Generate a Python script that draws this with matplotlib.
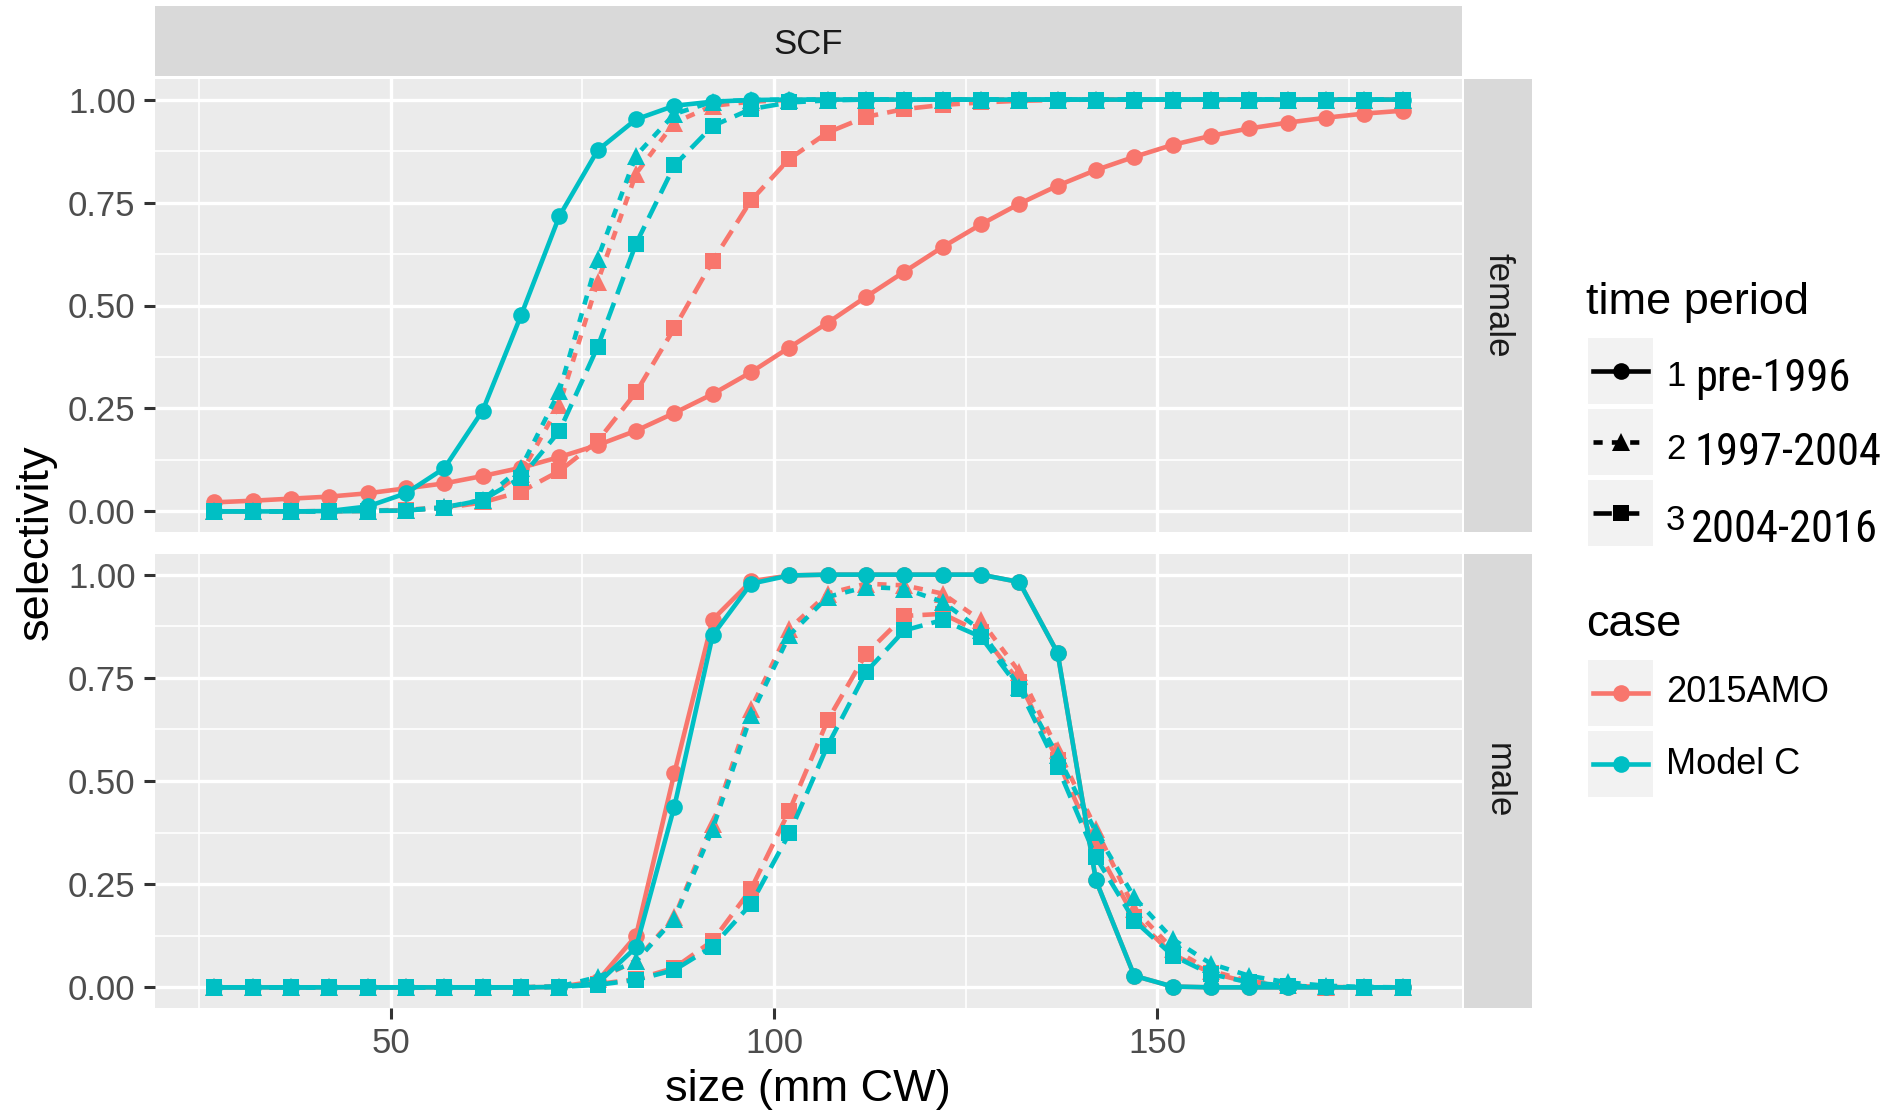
import matplotlib
matplotlib.use("Agg")
import matplotlib.pyplot as plt
from matplotlib.lines import Line2D
from matplotlib.patches import Rectangle
from matplotlib import font_manager

plt.rcParams['font.family'] = ['Liberation Sans', 'DejaVu Sans']

# size bins (mm CW)
size = [27, 32, 37, 42, 47, 52, 57, 62, 67, 72, 77, 82, 87, 92, 97, 102,
        107, 112, 117, 122, 127, 132, 137, 142, 147, 152, 157, 162, 167, 172, 177, 182]

# female, 2015AMO
fem_amo_1 = [0.022, 0.026, 0.031, 0.036, 0.044, 0.056, 0.068, 0.086, 0.106, 0.132, 0.161, 0.196,
             0.239, 0.285, 0.338, 0.398, 0.458, 0.521, 0.582, 0.642, 0.697, 0.747, 0.791, 0.829,
             0.861, 0.890, 0.912, 0.930, 0.944, 0.956, 0.966, 0.973]
fem_amo_2 = [0, 0, 0, 0.001, 0.002, 0.004, 0.010, 0.025, 0.092, 0.259, 0.558, 0.820,
             0.944, 0.985, 0.995, 0.999, 1, 1, 1, 1, 1, 1, 1, 1,
             1, 1, 1, 1, 1, 1, 1, 1]
fem_amo_3 = [0, 0, 0, 0, 0.001, 0.003, 0.008, 0.022, 0.048, 0.098, 0.171, 0.289,
             0.445, 0.608, 0.755, 0.856, 0.920, 0.958, 0.977, 0.987, 0.993, 0.997, 0.999, 1,
             1, 1, 1, 1, 1, 1, 1, 1]
# female, Model C
fem_mc_1 = [0, 0, 0, 0.001, 0.012, 0.044, 0.105, 0.245, 0.476, 0.717, 0.877, 0.952,
            0.985, 0.995, 0.999, 1, 1, 1, 1, 1, 1, 1, 1, 1,
            1, 1, 1, 1, 1, 1, 1, 1]
fem_mc_2 = [0, 0, 0, 0, 0.001, 0.003, 0.010, 0.028, 0.106, 0.292, 0.614, 0.864,
            0.965, 0.995, 0.999, 1, 1, 1, 1, 1, 1, 1, 1, 1,
            1, 1, 1, 1, 1, 1, 1, 1]
fem_mc_3 = [0, 0, 0, 0, 0.001, 0.002, 0.009, 0.028, 0.082, 0.195, 0.400, 0.650,
            0.840, 0.936, 0.977, 0.993, 0.998, 1, 1, 1, 1, 1, 1, 1,
            1, 1, 1, 1, 1, 1, 1, 1]

# male, 2015AMO
mal_amo_1 = [0, 0, 0, 0, 0, 0, 0, 0, 0, 0.001, 0.016, 0.125,
             0.519, 0.891, 0.984, 0.998, 1, 1, 1, 1, 1, 0.982, 0.810, 0.259,
             0.028, 0.002, 0, 0, 0, 0, 0, 0]
mal_amo_2 = [0, 0, 0, 0, 0, 0, 0, 0, 0, 0.002, 0.020, 0.065,
             0.170, 0.396, 0.675, 0.869, 0.954, 0.978, 0.974, 0.954, 0.889, 0.764, 0.576, 0.384,
             0.190, 0.093, 0.040, 0.015, 0.005, 0.001, 0, 0]
mal_amo_3 = [0, 0, 0, 0, 0, 0, 0, 0, 0, 0.002, 0.008, 0.020,
             0.047, 0.113, 0.238, 0.428, 0.647, 0.808, 0.900, 0.905, 0.860, 0.740, 0.550, 0.340,
             0.170, 0.080, 0.035, 0.012, 0.004, 0.001, 0, 0]
# male, Model C
mal_mc_1 = [0, 0, 0, 0, 0, 0, 0, 0, 0, 0.001, 0.010, 0.097,
            0.438, 0.853, 0.978, 0.998, 1, 1, 1, 1, 1, 0.982, 0.810, 0.259,
            0.028, 0.002, 0, 0, 0, 0, 0, 0]
mal_mc_2 = [0, 0, 0, 0, 0, 0, 0, 0, 0, 0.002, 0.025, 0.063,
            0.166, 0.384, 0.659, 0.853, 0.946, 0.970, 0.966, 0.934, 0.865, 0.728, 0.562, 0.376,
            0.218, 0.117, 0.057, 0.028, 0.012, 0.004, 0.001, 0]
mal_mc_3 = [0, 0, 0, 0, 0, 0, 0, 0, 0, 0.001, 0.006, 0.018,
            0.042, 0.099, 0.202, 0.373, 0.586, 0.764, 0.865, 0.890, 0.849, 0.724, 0.534, 0.315,
            0.162, 0.077, 0.032, 0.012, 0.004, 0.001, 0, 0]

cases = ["2015AMO", "Model C"]
case_colors = ["#F8766D", "#00BFC4"]
period_nums = ["1", "2", "3"]
period_names = ["pre-1996", "1997-2004", "2004-2016"]
period_markers = ["o", "^", "s"]
period_msize = [12, 13.5, 11]
period_ls = ["-", (0, (2, 2)), (0, (4, 2))]

panels = {
    "female": [[fem_amo_1, fem_amo_2, fem_amo_3], [fem_mc_1, fem_mc_2, fem_mc_3]],
    "male": [[mal_amo_1, mal_amo_2, mal_amo_3], [mal_mc_1, mal_mc_2, mal_mc_3]],
}

W, H = 1902, 1115
fig = plt.figure(figsize=(W / 100, H / 100), dpi=100)


def box(l, t, r, b):
    return [l / W, 1 - b / H, (r - l) / W, (b - t) / H]


# narrow font for the legend labels, if one is installed
names = {f.name for f in font_manager.fontManager.ttflist}
narrow = None
for n in ["Liberation Sans Narrow", "Roboto Condensed", "Open Sans Condensed"]:
    if n in names:
        narrow = n
        break

panel_boxes = {"female": (155, 79, 1462, 532), "male": (155, 554, 1462, 1008)}
lw = 3.3

for i, (sex, data) in enumerate(panels.items()):
    l, t, r, b = panel_boxes[sex]
    ax = fig.add_axes(box(l, t, r, b))
    ax.set_facecolor("#EBEBEB")
    for s in ax.spines.values():
        s.set_visible(False)
    ax.set_xlim(19.25, 189.75)
    ax.set_ylim(-0.05, 1.05)
    ax.set_xticks([50, 100, 150])
    ax.set_xticks([25, 75, 125, 175], minor=True)
    ax.set_yticks([0, 0.25, 0.5, 0.75, 1.0])
    ax.set_yticks([0.125, 0.375, 0.625, 0.875], minor=True)
    ax.set_yticklabels(["0.00", "0.25", "0.50", "0.75", "1.00"])
    ax.grid(which="major", color="white", lw=2.4)
    ax.grid(which="minor", color="white", lw=1.2)
    ax.set_axisbelow(True)
    ax.tick_params(which="major", length=8, width=2.2, color="#333333",
                   labelsize=25, labelcolor="#4D4D4D", pad=6)
    ax.tick_params(which="minor", length=0)
    if i == 0:
        ax.tick_params(axis="x", labelbottom=False, length=0)
    for c in range(2):
        for p in range(3):
            ax.plot(size, data[c][p], color=case_colors[c], lw=lw, ls=period_ls[p],
                    marker=period_markers[p], ms=period_msize[p], mew=0, zorder=3 + c)
    # right strip
    sax = fig.add_axes(box(1464, t, 1532, b))
    sax.set_facecolor("#D9D9D9")
    sax.set_xticks([])
    sax.set_yticks([])
    for s in sax.spines.values():
        s.set_visible(False)
    sax.text(0.5, 0.5, sex, rotation=-90, ha="center", va="center",
             fontsize=25, color="#1A1A1A", transform=sax.transAxes)

# top strip
tax = fig.add_axes(box(155, 6, 1462, 76))
tax.set_facecolor("#D9D9D9")
tax.set_xticks([])
tax.set_yticks([])
for s in tax.spines.values():
    s.set_visible(False)
tax.text(0.5, 0.45, "SCF", ha="center", va="center", fontsize=25, color="#1A1A1A",
         transform=tax.transAxes)

fig.text(808 / W, 1 - 1089 / H, "size (mm CW)", ha="center", va="center", fontsize=32.5)
fig.text(36 / W, 1 - 542 / H, "selectivity", ha="center", va="center", fontsize=32.5,
         rotation=90)


# legends drawn by hand
def fx(px):
    return px / W


def fy(py):
    return 1 - py / H


key_l, key_r = 1588, 1653
key_h = 66

fig.text(fx(1586), fy(303), "time period", ha="left", va="center", fontsize=32.5)
tp_rows = [371, 442, 513]
num_base = [386, 459, 530]
name_base = [391, 465, 542]
name_x = [1695, 1695, 1691]
for p, yc in enumerate(tp_rows):
    fig.add_artist(Rectangle((fx(key_l), fy(yc + key_h / 2)), (key_r - key_l) / W, key_h / H,
                             transform=fig.transFigure, facecolor="#F2F2F2", edgecolor="none"))
    fig.add_artist(Line2D([fx(key_l + 5), fx(key_r - 5)], [fy(yc), fy(yc)], color="black",
                          lw=lw, ls=period_ls[p], transform=fig.transFigure))
    fig.add_artist(Line2D([fx((key_l + key_r) / 2)], [fy(yc)], color="black", marker=period_markers[p],
                          ms=period_msize[p], mew=0, transform=fig.transFigure))
    fig.text(fx(1666), fy(num_base[p]), period_nums[p], ha="left", va="baseline", fontsize=25)
    if narrow:
        fig.text(fx(name_x[p]), fy(name_base[p]), period_names[p], ha="left", va="baseline",
                 fontsize=32, family=[narrow, "DejaVu Sans"])
    else:
        fig.text(fx(name_x[p]), fy(name_base[p]), period_names[p], ha="left", va="baseline",
                 fontsize=27)

fig.text(fx(1586), fy(625), "case", ha="left", va="center", fontsize=32.5)
case_rows = [693, 764]
for c, yc in enumerate(case_rows):
    fig.add_artist(Rectangle((fx(key_l), fy(yc + key_h / 2)), (key_r - key_l) / W, key_h / H,
                             transform=fig.transFigure, facecolor="#F2F2F2", edgecolor="none"))
    fig.add_artist(Line2D([fx(key_l + 5), fx(key_r - 5)], [fy(yc), fy(yc)], color=case_colors[c],
                          lw=lw, transform=fig.transFigure))
    fig.add_artist(Line2D([fx((key_l + key_r) / 2)], [fy(yc)], color=case_colors[c], marker="o",
                          ms=12, mew=0, transform=fig.transFigure))
    fig.text(fx(1666), fy(yc), cases[c], ha="left", va="center", fontsize=26)

fig.savefig("out.png", dpi=100, facecolor="white")
